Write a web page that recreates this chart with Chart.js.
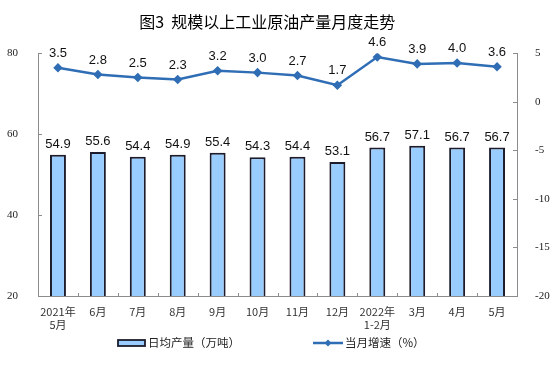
<!DOCTYPE html>
<html>
<head>
<meta charset="utf-8">
<script src="https://cdn.jsdelivr.net/npm/chart.js@4/dist/chart.umd.min.js"></script>
<style>
html, body { margin: 0; padding: 0; background: #fff; }
#wrap { width: 554px; height: 374px; }
</style>
</head>
<body>
<div id="wrap"><canvas id="oilChart"></canvas></div>
<script>
// data
const months = [['2021年', '5月'], '6月', '7月', '8月', '9月', '10月', '11月', '12月', ['2022年', '1-2月'], '3月', '4月', '5月'];
const dailyOutput = [54.9, 55.6, 54.4, 54.9, 55.4, 54.3, 54.4, 53.1, 56.7, 57.1, 56.7, 56.7];
const growthRate = [3.5, 2.8, 2.5, 2.3, 3.2, 3.0, 2.7, 1.7, 4.6, 3.9, 4.0, 3.6];
const barName = '日均产量（万吨）';
const lineName = '当月增速（%）';

const cjk = '"Noto Sans CJK SC", sans-serif';
const lineColor = '#2f6db5';
const axisColor = '#8c8c8c';

// value labels over the bars and the points
const valueLabels = {
  id: 'valueLabels',
  afterDatasetsDraw(chart) {
    const ctx = chart.ctx;
    const ds = chart.data.datasets;
    const barMeta = chart.getDatasetMeta(ds.findIndex(d => d.label === barName));
    const lineMeta = chart.getDatasetMeta(ds.findIndex(d => d.label === lineName));
    ctx.save();
    ctx.font = '13px "Liberation Sans", Arial, sans-serif';
    ctx.fillStyle = '#111';
    ctx.textAlign = 'center';
    ctx.textBaseline = 'bottom';
    barMeta.data.forEach((bar, i) => {
      ctx.fillText(dailyOutput[i].toFixed(1), bar.x, bar.y - 4);
    });
    lineMeta.data.forEach((pt, i) => {
      ctx.fillText(growthRate[i].toFixed(1), pt.x, pt.y - 8);
    });
    ctx.restore();
  }
};

// small inward tick marks like the original
const innerTicks = {
  id: 'innerTicks',
  afterDraw(chart) {
    const ctx = chart.ctx;
    const a = chart.chartArea;
    const x = chart.scales.x, yl = chart.scales.y, yr = chart.scales.y1;
    ctx.save();
    ctx.strokeStyle = axisColor;
    ctx.lineWidth = 1;
    ctx.beginPath();
    for (let i = 0; i < months.length - 1; i++) {
      const px = Math.round((x.getPixelForValue(i) + x.getPixelForValue(i + 1)) / 2) + 0.5;
      ctx.moveTo(px, a.bottom);
      ctx.lineTo(px, a.bottom - 3);
    }
    yl.ticks.forEach(t => {
      const py = Math.round(yl.getPixelForValue(t.value)) + 0.5;
      ctx.moveTo(a.left, py);
      ctx.lineTo(a.left + 4, py);
    });
    yr.ticks.forEach(t => {
      const py = Math.round(yr.getPixelForValue(t.value)) + 0.5;
      ctx.moveTo(a.right, py);
      ctx.lineTo(a.right - 4, py);
    });
    ctx.stroke();
    ctx.restore();
  }
};

// legend under the axis
const bottomLegend = {
  id: 'bottomLegend',
  afterDraw(chart) {
    const ctx = chart.ctx;
    const y = 343;
    ctx.save();
    ctx.fillStyle = '#99ccff';
    ctx.fillRect(118, y - 3, 27, 6);
    ctx.strokeStyle = '#1c1c2c';
    ctx.lineWidth = 1.8;
    ctx.strokeRect(118, y - 3, 27, 6);
    ctx.strokeStyle = lineColor;
    ctx.lineWidth = 2.5;
    ctx.beginPath();
    ctx.moveTo(313, y);
    ctx.lineTo(343, y);
    ctx.stroke();
    ctx.fillStyle = lineColor;
    ctx.beginPath();
    ctx.moveTo(328, y - 3.5);
    ctx.lineTo(331.5, y);
    ctx.lineTo(328, y + 3.5);
    ctx.lineTo(324.5, y);
    ctx.closePath();
    ctx.fill();
    ctx.fillStyle = '#222';
    ctx.font = '11.5px ' + cjk;
    ctx.textBaseline = 'middle';
    ctx.textAlign = 'left';
    ctx.fillText(barName, 148, y);
    ctx.fillText(lineName, 345, y);
    ctx.restore();
  }
};

new Chart(document.getElementById('oilChart'), {
  type: 'bar',
  data: {
    labels: months,
    datasets: [
      {
        type: 'line',
        label: lineName,
        data: growthRate,
        yAxisID: 'y1',
        borderColor: lineColor,
        backgroundColor: lineColor,
        borderWidth: 2.5,
        pointStyle: 'rectRot',
        pointRadius: 3,
        tension: 0,
        order: 0
      },
      {
        label: barName,
        data: dailyOutput,
        yAxisID: 'y',
        backgroundColor: '#99ccff',
        borderColor: '#1c1c2c',
        borderWidth: 2,
        barPercentage: 0.4,
        categoryPercentage: 1,
        order: 1
      }
    ]
  },
  options: {
    responsive: true,
    maintainAspectRatio: false,
    animation: false,
    layout: { padding: { top: 0, bottom: 38, left: 0, right: 0 } },
    plugins: {
      legend: { display: false },
      tooltip: { enabled: false },
      title: {
        display: true,
        // trailing full-width space nudges the centred title a little left, as in the original
        text: '图3  规模以上工业原油产量月度走势　 ',
        color: '#000',
        font: { family: cjk, size: 16, weight: 'normal' },
        padding: { top: 12, bottom: 22 }
      }
    },
    scales: {
      x: {
        grid: { display: false },
        border: { display: true, color: axisColor, width: 1 },
        ticks: {
          color: '#333',
          font: { family: cjk, size: 11, lineHeight: 1.2 },
          padding: 1,
          maxRotation: 0,
          autoSkip: false
        },
        afterFit(s) { s.height = 40; }
      },
      y: {
        position: 'left',
        min: 20,
        max: 80,
        grid: { display: false },
        border: { display: true, color: axisColor, width: 1 },
        ticks: {
          stepSize: 20,
          color: '#222',
          font: { family: '"Liberation Serif", serif', size: 11 },
          padding: 12
        },
        afterFit(s) { s.width = 38; }
      },
      y1: {
        position: 'right',
        min: -20,
        max: 5,
        grid: { display: false },
        border: { display: true, color: axisColor, width: 1 },
        ticks: {
          stepSize: 5,
          color: '#222',
          font: { family: '"Liberation Serif", serif', size: 11 },
          padding: 10
        },
        afterFit(s) { s.width = 37; }
      }
    }
  },
  plugins: [valueLabels, innerTicks, bottomLegend]
});
</script>
</body>
</html>
